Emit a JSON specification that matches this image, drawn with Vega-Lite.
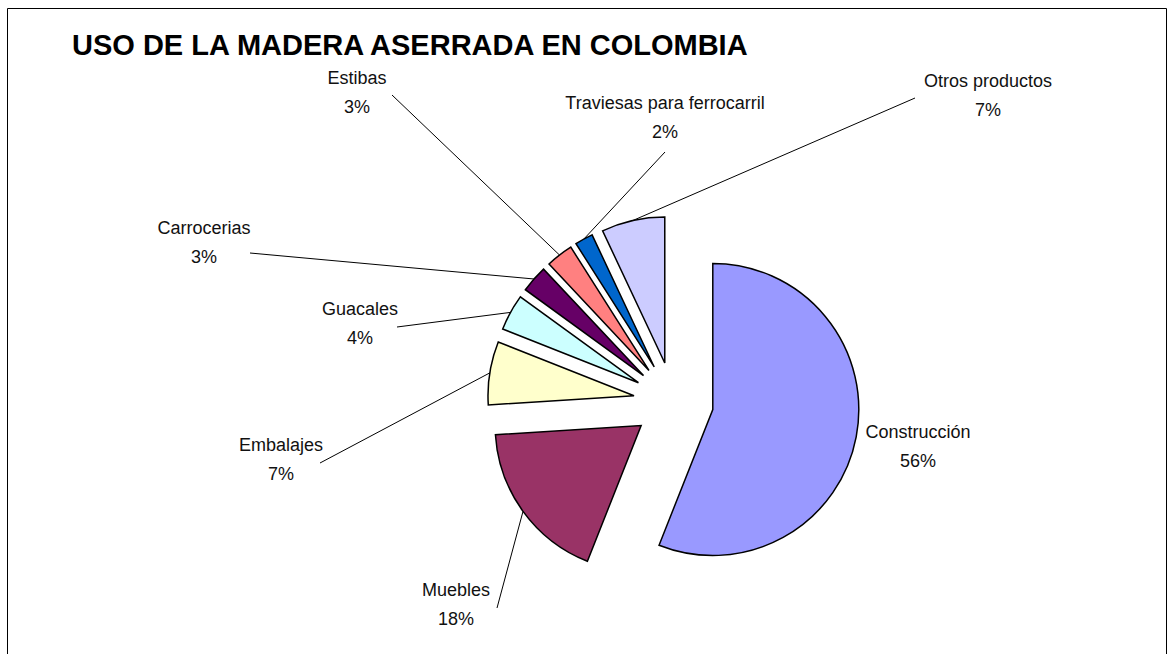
{
  "$schema": "https://vega.github.io/schema/vega-lite/v6.json",
  "width": 1159,
  "height": 646,
  "autosize": "none",
  "padding": {"left": 7, "top": 8, "right": 7, "bottom": 0},
  "background": "white",
  "config": {
    "view": {"stroke": "black", "strokeWidth": 1},
    "text": {"font": "Liberation Sans", "fontSize": 18, "fill": "#111111"}
  },
  "title": {
    "text": "USO DE LA MADERA ASERRADA EN COLOMBIA",
    "anchor": "start",
    "frame": "group",
    "orient": "top",
    "offset": 0,
    "baseline": "alphabetic",
    "dx": 65,
    "dy": 76,
    "font": "Liberation Sans",
    "fontSize": 29,
    "fontWeight": "bold",
    "color": "black"
  },
  "data": {
    "values": [
      {"uso": "Construcción", "pct": 56, "lx": 244.5, "ly": -45.5, "sx": null, "sy": null},
      {"uso": "Muebles", "pct": 18, "lx": -217.5, "ly": -203, "sx": -176.5, "sy": -206},
      {"uso": "Embalajes", "pct": 7, "lx": -392.5, "ly": -58.5, "sx": -353.5, "sy": -61},
      {"uso": "Guacales", "pct": 4, "lx": -313.5, "ly": 78, "sx": -276.5, "sy": 75},
      {"uso": "Carrocerias", "pct": 3, "lx": -469.5, "ly": 159, "sx": -423.5, "sy": 149},
      {"uso": "Estibas", "pct": 3, "lx": -316.5, "ly": 309, "sx": -281.5, "sy": 307},
      {"uso": "Traviesas para ferrocarril", "pct": 2, "lx": -8.5, "ly": 283.5, "sx": -8.5, "sy": 250},
      {"uso": "Otros productos", "pct": 7, "lx": 314.5, "ly": 306, "sx": 241.5, "sy": 304}
    ]
  },
  "transform": [
    {"window": [{"op": "sum", "field": "pct", "as": "t1"}], "frame": [null, 0]},
    {"calculate": "datum.t1 - datum.pct", "as": "t0"},
    {"calculate": "(datum.t0 + datum.t1) / 100 * PI", "as": "mid"},
    {"calculate": "40 * sin(datum.mid)", "as": "ex"},
    {"calculate": "40 * cos(datum.mid)", "as": "ey"},
    {"calculate": "186 * sin(datum.mid)", "as": "lex"},
    {"calculate": "186 * cos(datum.mid)", "as": "ley"},
    {"calculate": "datum.pct + '%'", "as": "pctLabel"}
  ],
  "layer": [
    {
      "mark": {"type": "arc", "radius": 146, "stroke": "black", "strokeWidth": 1.5},
      "encoding": {
        "x": {"field": "ex", "type": "quantitative", "scale": {"domain": [-666.5, 492.5], "nice": false, "zero": false}, "axis": null},
        "y": {"field": "ey", "type": "quantitative", "scale": {"domain": [-252, 394], "nice": false, "zero": false}, "axis": null},
        "theta": {"field": "t0", "type": "quantitative", "scale": {"domain": [0, 100]}},
        "theta2": {"field": "t1"},
        "color": {
          "field": "uso",
          "type": "nominal",
          "legend": null,
          "scale": {
            "domain": ["Construcción", "Muebles", "Embalajes", "Guacales", "Carrocerias", "Estibas", "Traviesas para ferrocarril", "Otros productos"],
            "range": ["#9999FF", "#993366", "#FFFFCC", "#CCFFFF", "#660066", "#FF8080", "#0066CC", "#CCCCFF"]
          }
        }
      }
    },
    {
      "transform": [{"filter": "isValid(datum.sx)"}],
      "mark": {"type": "rule", "color": "black", "strokeWidth": 1},
      "encoding": {
        "x": {"field": "sx", "type": "quantitative"},
        "y": {"field": "sy", "type": "quantitative"},
        "x2": {"field": "lex"},
        "y2": {"field": "ley"}
      }
    },
    {
      "mark": {"type": "text", "dy": -14.5, "align": "center", "baseline": "middle"},
      "encoding": {
        "x": {"field": "lx", "type": "quantitative"},
        "y": {"field": "ly", "type": "quantitative"},
        "text": {"field": "uso"}
      }
    },
    {
      "mark": {"type": "text", "dy": 14.5, "align": "center", "baseline": "middle"},
      "encoding": {
        "x": {"field": "lx", "type": "quantitative"},
        "y": {"field": "ly", "type": "quantitative"},
        "text": {"field": "pctLabel"}
      }
    }
  ]
}
